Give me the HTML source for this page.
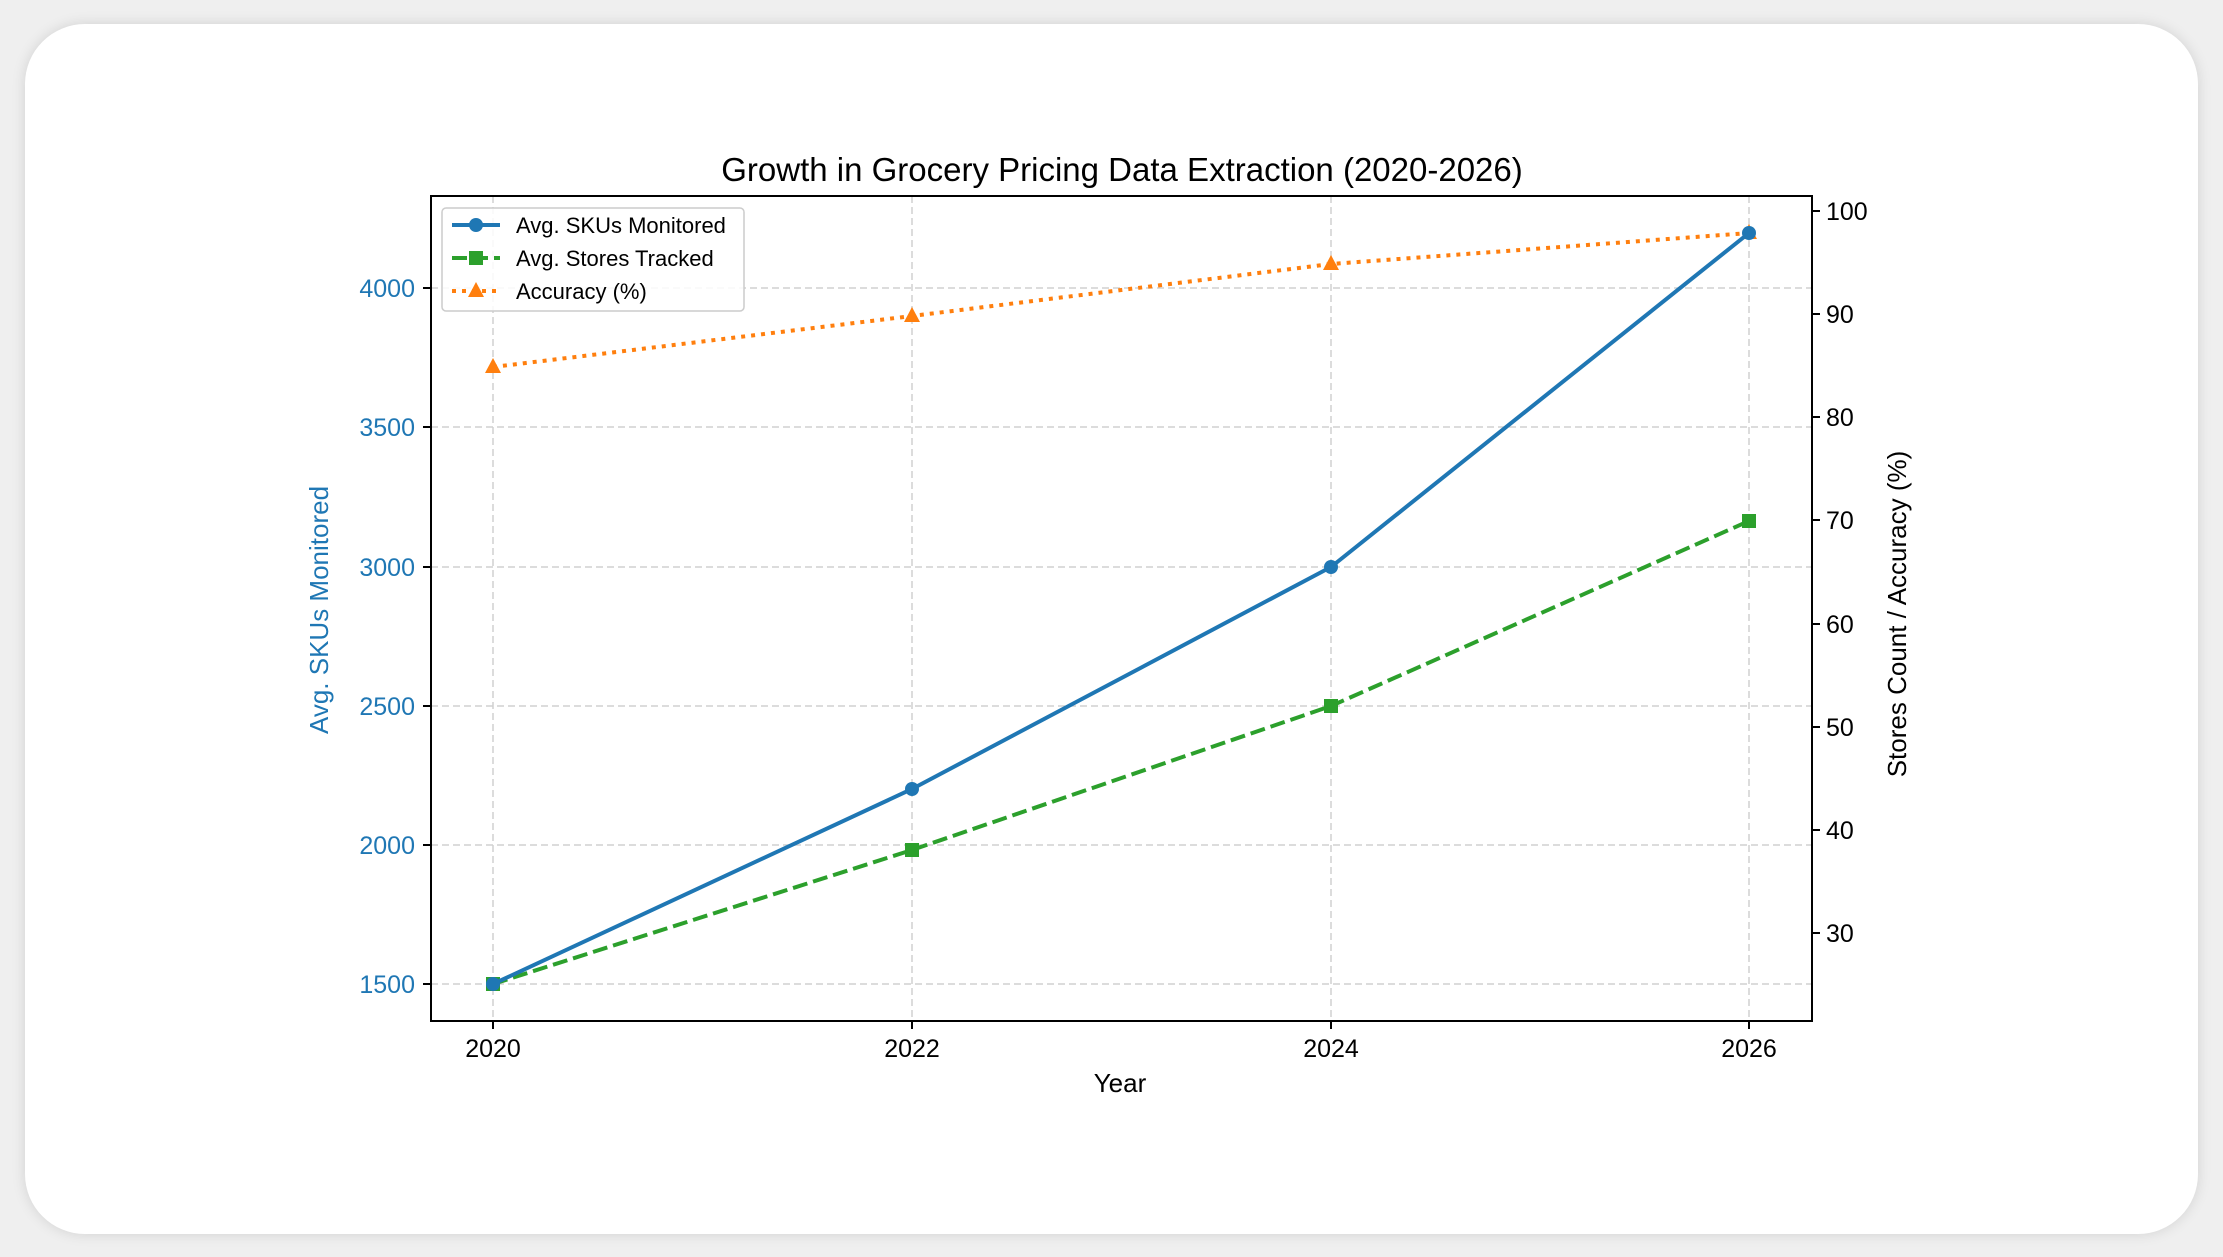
<!DOCTYPE html>
<html><head><meta charset="utf-8"><style>
html,body{margin:0;padding:0;background:#efefef;width:2223px;height:1257px;overflow:hidden}
.card{position:absolute;left:25px;top:24px;width:2173px;height:1210px;background:#fff;border-radius:60px;box-shadow:0 0 14px rgba(0,0,0,0.12)}
svg{position:absolute;left:0;top:0}
text{font-family:"Liberation Sans",sans-serif}
</style></head><body>
<div class="card"></div>
<svg width="2223" height="1257" viewBox="0 0 2223 1257">
<g stroke="#d0d0d0" stroke-width="1.5" stroke-dasharray="7,4">
<line x1="493" y1="196" x2="493" y2="1021"/><line x1="912" y1="196" x2="912" y2="1021"/>
<line x1="1331" y1="196" x2="1331" y2="1021"/><line x1="1749" y1="196" x2="1749" y2="1021"/>
<line x1="431" y1="984" x2="1812" y2="984"/><line x1="431" y1="845" x2="1812" y2="845"/>
<line x1="431" y1="706" x2="1812" y2="706"/><line x1="431" y1="567" x2="1812" y2="567"/>
<line x1="431" y1="427" x2="1812" y2="427"/><line x1="431" y1="288" x2="1812" y2="288"/>
</g>
<rect x="431" y="196" width="1381" height="825" fill="none" stroke="#000" stroke-width="2"/>
<g stroke="#000" stroke-width="2">
<line x1="493" y1="1021" x2="493" y2="1029"/><line x1="912" y1="1021" x2="912" y2="1029"/><line x1="1331" y1="1021" x2="1331" y2="1029"/><line x1="1749" y1="1021" x2="1749" y2="1029"/>
<line x1="423" y1="984" x2="431" y2="984"/><line x1="423" y1="845" x2="431" y2="845"/><line x1="423" y1="706" x2="431" y2="706"/><line x1="423" y1="567" x2="431" y2="567"/><line x1="423" y1="427" x2="431" y2="427"/><line x1="423" y1="288" x2="431" y2="288"/>
<line x1="1812" y1="211" x2="1820" y2="211"/><line x1="1812" y1="314" x2="1820" y2="314"/><line x1="1812" y1="417" x2="1820" y2="417"/><line x1="1812" y1="520" x2="1820" y2="520"/><line x1="1812" y1="624" x2="1820" y2="624"/><line x1="1812" y1="727" x2="1820" y2="727"/><line x1="1812" y1="830" x2="1820" y2="830"/><line x1="1812" y1="933" x2="1820" y2="933"/>
</g>
<g font-size="25" fill="#000" text-anchor="middle">
<text x="493" y="1057">2020</text><text x="912" y="1057">2022</text><text x="1331" y="1057">2024</text><text x="1749" y="1057">2026</text>
</g>
<g font-size="25" fill="#1f77b4" text-anchor="end">
<text x="415" y="993">1500</text><text x="415" y="854">2000</text><text x="415" y="715">2500</text><text x="415" y="576">3000</text><text x="415" y="436">3500</text><text x="415" y="297">4000</text>
</g>
<g font-size="25" fill="#000">
<text x="1826" y="220">100</text><text x="1826" y="323">90</text><text x="1826" y="426">80</text><text x="1826" y="529">70</text><text x="1826" y="633">60</text><text x="1826" y="736">50</text><text x="1826" y="839">40</text><text x="1826" y="942">30</text>
</g>
<text x="1122" y="181" font-size="33" text-anchor="middle">Growth in Grocery Pricing Data Extraction (2020-2026)</text>
<text x="1120" y="1092" font-size="26" text-anchor="middle">Year</text>
<text transform="translate(328,610) rotate(-90)" font-size="26" fill="#1f77b4" text-anchor="middle">Avg. SKUs Monitored</text>
<text transform="translate(1906,614) rotate(-90)" font-size="26" text-anchor="middle">Stores Count / Accuracy (%)</text>
<polyline points="493,367 912,316 1331,264 1749,233" fill="none" stroke="#ff7f0e" stroke-width="4" stroke-dasharray="4,6"/>
<g fill="#ff7f0e">
<polygon points="493,358 485,373 501,373"/><polygon points="912,307 904,322 920,322"/><polygon points="1331,255 1323,270 1339,270"/><polygon points="1749,224 1741,239 1757,239"/>
</g>
<polyline points="493,984 912,850 1331,706 1749,521" fill="none" stroke="#2ca02c" stroke-width="4" stroke-dasharray="15,6"/>
<g fill="#2ca02c">
<rect x="486" y="977" width="14" height="14"/><rect x="905" y="843" width="14" height="14"/><rect x="1324" y="699" width="14" height="14"/><rect x="1742" y="514" width="14" height="14"/>
</g>
<polyline points="493,984 912,789 1331,567 1749,233" fill="none" stroke="#1f77b4" stroke-width="4"/>
<g fill="#1f77b4">
<circle cx="493" cy="984" r="7"/><circle cx="912" cy="789" r="7"/><circle cx="1331" cy="567" r="7"/><circle cx="1749" cy="233" r="7"/>
</g>
<rect x="442" y="208" width="302" height="103" rx="4" fill="#fff" fill-opacity="0.85" stroke="#ccc" stroke-width="1.5"/>
<line x1="452" y1="225" x2="500" y2="225" stroke="#1f77b4" stroke-width="4"/><circle cx="476" cy="225" r="7" fill="#1f77b4"/>
<line x1="452" y1="258" x2="500" y2="258" stroke="#2ca02c" stroke-width="4" stroke-dasharray="15,6"/><rect x="469" y="251" width="14" height="14" fill="#2ca02c"/>
<line x1="452" y1="291" x2="500" y2="291" stroke="#ff7f0e" stroke-width="4" stroke-dasharray="4,6"/><polygon points="476,282 468,297 484,297" fill="#ff7f0e"/>
<g font-size="22" fill="#000">
<text x="516" y="233">Avg. SKUs Monitored</text><text x="516" y="266">Avg. Stores Tracked</text><text x="516" y="299">Accuracy (%)</text>
</g>
</svg>
</body></html>
